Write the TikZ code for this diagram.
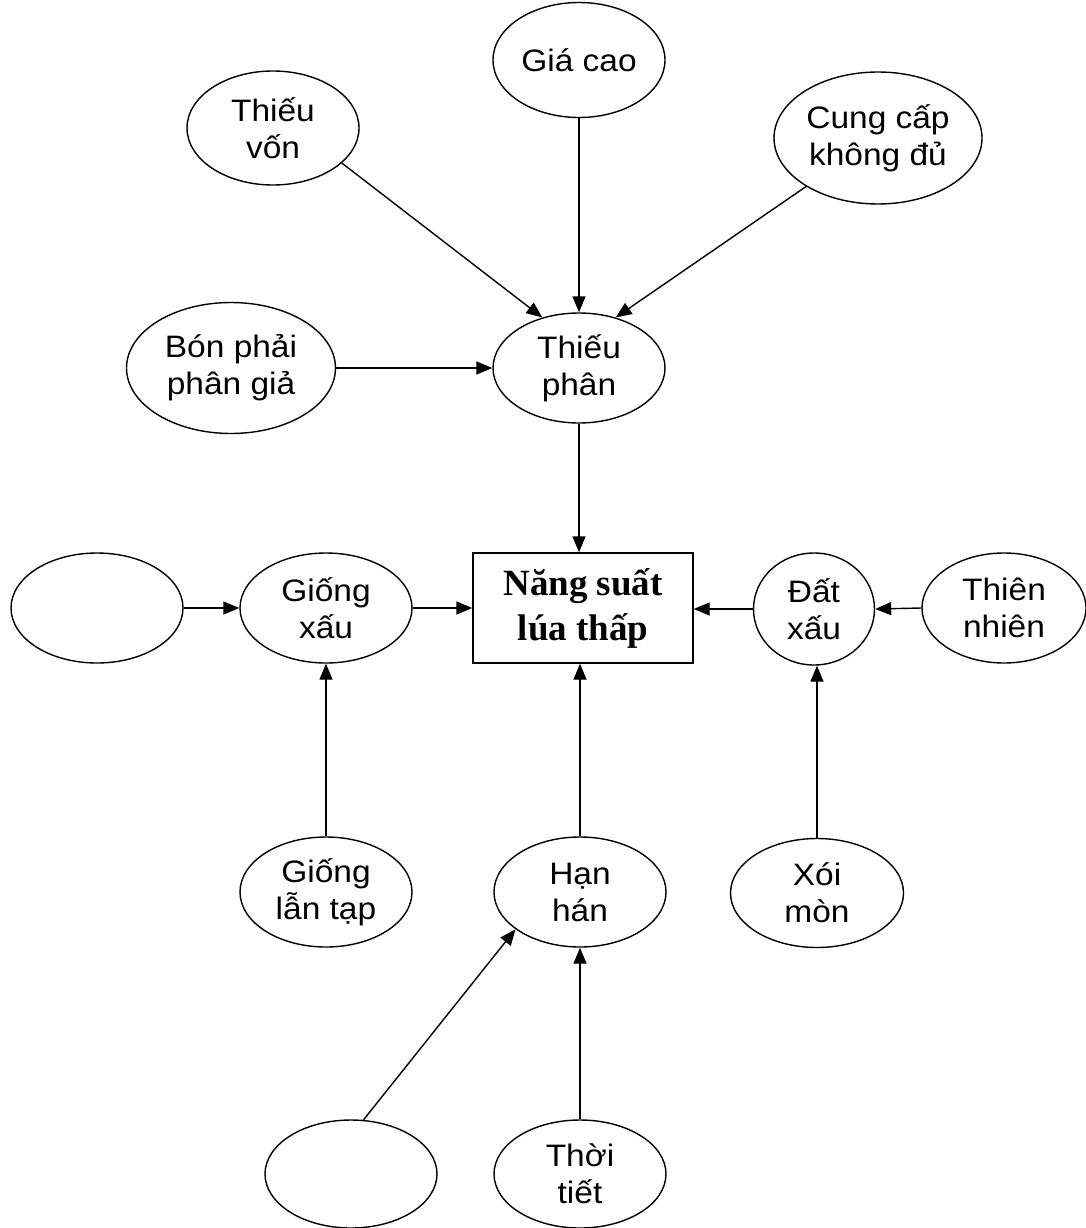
\documentclass[tikz,border=0pt]{standalone}
\usepackage{fontspec}
\setmainfont{Liberation Sans}[FakeStretch=1.08]
\newfontfamily\titlefont{Liberation Serif}
\usetikzlibrary{shapes.geometric,arrows.meta}
\tikzset{
  oval/.style={draw, line width=1.4pt, ellipse, inner sep=0pt, align=center,
    font=\fontsize{31}{37}\selectfont},
  box/.style={draw, line width=1.4pt, rectangle, inner sep=0pt, align=center,
    minimum width=220pt, minimum height=110pt,
    font=\titlefont\bfseries\fontsize{37}{45}\selectfont},
  arr/.style={line width=1.4pt, -{Triangle[length=16pt,width=13pt]}}
}
\begin{document}
\begin{tikzpicture}[x=1pt,y=-1pt]
\useasboundingbox (0,0) rectangle (1086,1228);

% causes of fertiliser shortage
\node[oval, minimum width=172pt, minimum height=115pt] (gc) at (579,60) {Giá cao};
\node[oval, minimum width=172pt, minimum height=114pt] (tv) at (273,128) {Thiếu\\vốn};
\node[oval, minimum width=208pt, minimum height=132pt] (cc) at (878,138) {Cung cấp\\không đủ};
\node[oval, minimum width=209pt, minimum height=131pt] (bp) at (231,368) {Bón phải\\phân giả};
\node[oval, minimum width=172pt, minimum height=110pt] (tp) at (579,368) {Thiếu\\phân};

% central problem and its direct causes
\node[box] (ns) at (583,608) {Năng suất\\lúa thấp};
\node[oval, minimum width=172pt, minimum height=110pt] (el) at (97,608) {};
\node[oval, minimum width=172pt, minimum height=110pt] (gx) at (326,608) {Giống\\xấu};
\node[oval, minimum width=121pt, minimum height=112pt] (dx) at (814,609) {Đất\\xấu};
\node[oval, minimum width=164pt, minimum height=110pt] (tn) at (1004,608) {Thiên\\nhiên};

% lower row
\node[oval, minimum width=172pt, minimum height=110pt] (gl) at (326,892) {Giống\\lẫn tạp};
\node[oval, minimum width=172pt, minimum height=110pt] (hh) at (580,892) {Hạn\\hán};
\node[oval, minimum width=173pt, minimum height=109pt] (xm) at (817,893) {Xói\\mòn};

% bottom row
\node[oval, minimum width=172pt, minimum height=108pt] (eb) at (351,1174) {};
\node[oval, minimum width=172pt, minimum height=108pt] (tt) at (580,1174) {Thời\\tiết};

% connectors
\draw[arr] (tv.-27) -- (tp.126);
\draw[arr] (gc.south) -- (tp.north);
\draw[arr] (cc.214) -- (tp.54);
\draw[arr] (bp.east) -- (tp.west);
\draw[arr] (tp.south) -- (tp.south |- ns.north);

\draw[arr] (el.east) -- (gx.west);
\draw[arr] (gx.east) -- (gx.east -| ns.west);
\draw[arr] (tn.west) -- (dx.east);
\draw[arr] (dx.west) -- (dx.west -| ns.east);

\draw[arr] (gl.north) -- (gx.south);
\draw[arr] (hh.north) -- (hh.north |- ns.south);
\draw[arr] (xm.north) -- (xm.north |- dx.south);

\draw[arr] (eb.77) -- (hh.210);
\draw[arr] (tt.north) -- (hh.south);
\end{tikzpicture}
\end{document}
